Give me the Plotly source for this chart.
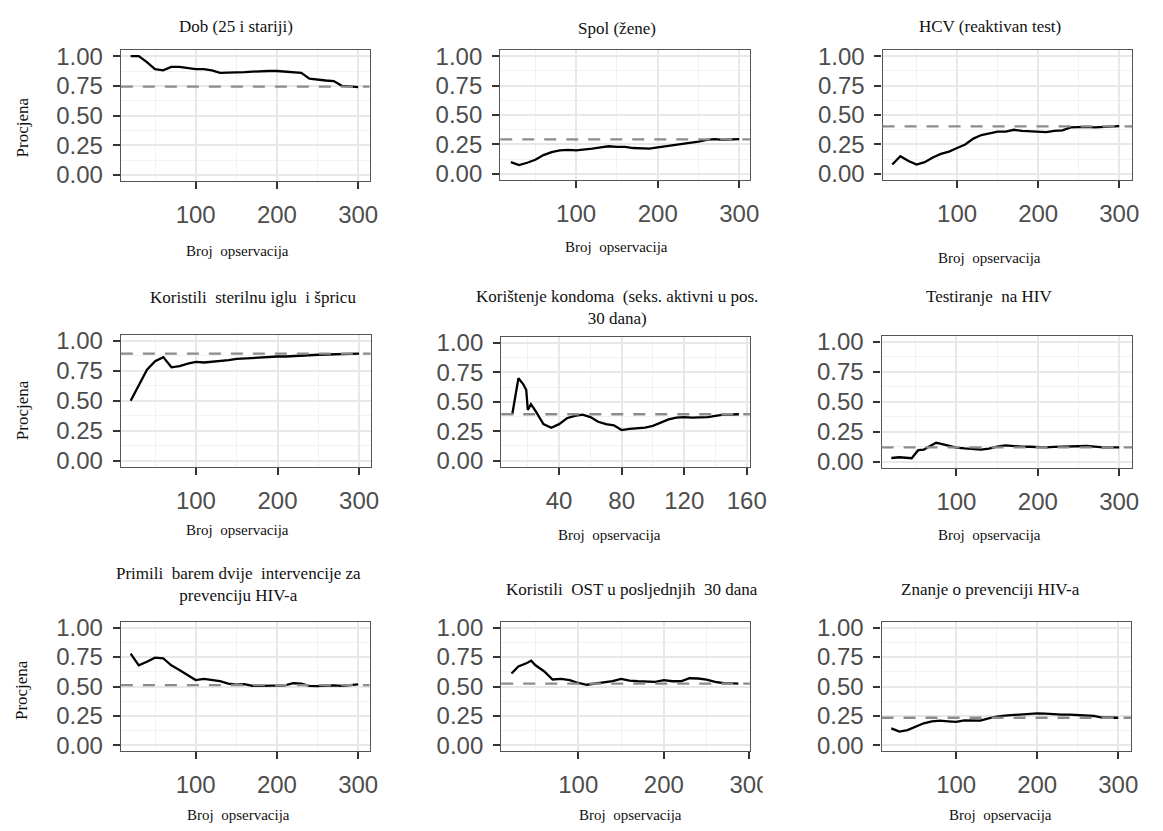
import plotly.graph_objects as go

W, H = 1163, 831

# ---------------- data ----------------
x_300 = [20, 30, 40, 50, 60, 70, 80, 90, 100, 110, 120, 130, 140, 150, 160, 170,
         180, 190, 200, 210, 220, 230, 240, 250, 260, 270, 280, 290, 300]

dob = [1.00, 1.00, 0.95, 0.89, 0.88, 0.91, 0.91, 0.90, 0.89, 0.89, 0.88, 0.86, 0.86,
       0.865, 0.865, 0.87, 0.875, 0.875, 0.875, 0.87, 0.865, 0.86, 0.81, 0.80, 0.795,
       0.79, 0.75, 0.745, 0.74]
dob_ref = 0.743

spol = [0.10, 0.075, 0.095, 0.12, 0.16, 0.185, 0.20, 0.205, 0.20, 0.205, 0.215, 0.225,
        0.235, 0.23, 0.23, 0.22, 0.215, 0.215, 0.225, 0.235, 0.245, 0.25, 0.26, 0.275,
        0.29, 0.295, 0.29, 0.292, 0.295]
spol_ref = 0.294

hcv = [0.08, 0.15, 0.11, 0.08, 0.10, 0.14, 0.17, 0.19, 0.22, 0.25, 0.30, 0.33, 0.345,
       0.36, 0.36, 0.375, 0.365, 0.36, 0.36, 0.355, 0.365, 0.37, 0.395, 0.40, 0.40,
       0.395, 0.40, 0.405, 0.405]
hcv_ref = 0.404

igla = [0.50, 0.63, 0.76, 0.83, 0.865, 0.78, 0.79, 0.81, 0.825, 0.82, 0.825, 0.83,
        0.84, 0.85, 0.855, 0.855, 0.86, 0.865, 0.87, 0.87, 0.875, 0.877, 0.88, 0.885,
        0.887, 0.888, 0.89, 0.893, 0.895]
igla_ref = 0.895

x_kondom = [10, 14, 17, 19, 20, 21, 22, 25, 30, 35, 40, 45, 50, 55, 60, 65, 70, 75,
            80, 85, 90, 95, 100, 105, 110, 115, 120, 125, 130, 135, 140, 145, 150, 155]
kondom = [0.39, 0.70, 0.65, 0.60, 0.43, 0.45, 0.48, 0.42, 0.31, 0.28, 0.31, 0.36,
          0.38, 0.39, 0.37, 0.33, 0.31, 0.30, 0.26, 0.27, 0.275, 0.28, 0.295, 0.325,
          0.35, 0.365, 0.37, 0.365, 0.365, 0.37, 0.38, 0.39, 0.392, 0.394]
kondom_ref = 0.394

x_test = [20, 30, 45, 53, 60, 70, 75, 80, 90, 100, 110, 120, 130, 140, 150, 160, 170,
          180, 190, 200, 210, 220, 230, 240, 250, 260, 270, 280, 290, 300]
test_hiv = [0.03, 0.036, 0.028, 0.095, 0.10, 0.14, 0.157, 0.15, 0.135, 0.117, 0.11,
            0.105, 0.10, 0.108, 0.125, 0.135, 0.128, 0.125, 0.124, 0.12, 0.118, 0.123,
            0.125, 0.128, 0.132, 0.13, 0.125, 0.118, 0.118, 0.118]
test_ref = 0.118

interv = [0.78, 0.68, 0.71, 0.745, 0.74, 0.68, 0.64, 0.60, 0.555, 0.565, 0.555, 0.545,
          0.525, 0.515, 0.52, 0.505, 0.505, 0.508, 0.505, 0.51, 0.528, 0.525, 0.505,
          0.503, 0.508, 0.51, 0.505, 0.51, 0.518]
interv_ref = 0.512

x_ost = [22, 30, 40, 45, 50, 60, 70, 80, 90, 100, 110, 120, 130, 140, 150, 160, 170,
         180, 190, 200, 210, 220, 230, 240, 250, 260, 270, 280, 287]
ost = [0.61, 0.67, 0.70, 0.72, 0.68, 0.63, 0.56, 0.565, 0.555, 0.53, 0.515, 0.525,
       0.53, 0.545, 0.565, 0.55, 0.545, 0.543, 0.54, 0.555, 0.545, 0.545, 0.57, 0.568,
       0.558, 0.54, 0.528, 0.527, 0.525]
ost_ref = 0.525

znanje = [0.145, 0.117, 0.13, 0.16, 0.188, 0.205, 0.21, 0.205, 0.20, 0.213, 0.21, 0.21,
          0.23, 0.245, 0.253, 0.258, 0.262, 0.262, 0.272, 0.27, 0.263, 0.262, 0.262,
          0.26, 0.258, 0.25, 0.237, 0.236, 0.235]
znanje_ref = 0.235

titles = ["Dob (25 i stariji)", "Spol (žene)", "HCV (reaktivan test)",
          "Koristili  sterilnu iglu  i špricu",
          "Korištenje kondoma  (seks. aktivni u pos.<br>30 dana)",
          "Testiranje  na HIV",
          "Primili  barem dvije  intervencije za<br>prevenciju HIV-a",
          "Koristili  OST u posljednjih  30 dana",
          "Znanje o prevenciji HIV-a"]
x_title = "Broj  opservacija"
y_title = "Procjena"
y_ticks = [0, 0.25, 0.5, 0.75, 1.0]

series = [(x_300, dob, dob_ref), (x_300, spol, spol_ref), (x_300, hcv, hcv_ref),
          (x_300, igla, igla_ref), (x_kondom, kondom, kondom_ref),
          (x_test, test_hiv, test_ref), (x_300, interv, interv_ref),
          (x_ost, ost, ost_ref), (x_300, znanje, znanje_ref)]

# ---------------- layout (pixel geometry) ----------------
# plot box: x0, x1, ytop, ybot
boxes = [(123, 376, 43, 176), (509, 763, 43, 175), (898, 1152, 43, 175),
         (123, 377, 333, 467), (510, 763, 335, 467), (897, 1152, 334, 468),
         (123, 376, 625, 757), (510, 763, 625, 757), (897, 1151, 625, 757)]
xranges = [[8, 314], [7, 313], [8, 316], [8, 314], [3, 162], [8, 316],
           [8, 314], [10, 300.5], [8, 316]]
xdticks = [100, 100, 100, 100, 40, 100, 100, 100, 100]
title_pos = [(240, 19), (628, 21), (1007, 19), (257, 295), (628, 305), (1007, 294),
             (243, 587), (643, 592), (1008, 592)]
xlab_pos = [(242, 247), (627, 243), (1007, 255), (242, 532), (620, 537), (1007, 537),
            (243, 822), (642, 822), (1018, 822)]
ylab_pos = [(23, 122), (23, 410), (22, 695)]

TICK_FONT = dict(family="Liberation Sans, Arial, sans-serif", size=24, color="#4D4D4D")
SERIF = "Liberation Serif, Times New Roman, serif"

fig = go.Figure()
layout = dict(width=W, height=H, margin=dict(l=0, r=0, t=0, b=0),
              paper_bgcolor="white", plot_bgcolor="white", showlegend=False)
annotations = []
shapes = []

for i, ((xs, ys, ref), box, xr, dt) in enumerate(zip(series, boxes, xranges, xdticks)):
    n = i + 1
    sfx = "" if n == 1 else str(n)
    x0, x1, yt, yb = box
    fig.add_trace(go.Scatter(x=xs, y=ys, mode="lines",
                             line=dict(color="black", width=2.3),
                             xaxis="x" + sfx, yaxis="y" + sfx, hoverinfo="skip"))
    common = dict(showline=True, linecolor="#555555", linewidth=1.3, mirror=True,
                  ticks="outside", ticklen=7, tickwidth=2, tickcolor="#333333",
                  showgrid=True, gridcolor="#E8E8E8", gridwidth=1.5,
                  zeroline=False, tickfont=TICK_FONT, ticklabelstandoff=5,
                  fixedrange=True)
    layout["xaxis" + sfx] = dict(domain=[x0 / W, x1 / W], anchor="y" + sfx,
                                 range=xr, tick0=0, dtick=dt,
                                 minor=dict(tick0=dt / 2, dtick=dt, showgrid=True,
                                            gridcolor="#F2F2F2", gridwidth=1),
                                 **common)
    layout["yaxis" + sfx] = dict(domain=[1 - yb / H, 1 - yt / H], anchor="x" + sfx,
                                 range=[-0.05, 1.05], tickvals=y_ticks,
                                 tickformat=".2f",
                                 minor=dict(tick0=0.125, dtick=0.25, showgrid=True,
                                            gridcolor="#F2F2F2", gridwidth=1),
                                 **common)
    shapes.append(dict(type="line", xref=f"x{sfx} domain", x0=0, x1=1,
                       yref="y" + sfx, y0=ref, y1=ref,
                       line=dict(color="#8C8C8C", width=2.3, dash="12px,10px")))
    tx, ty = title_pos[i]
    annotations.append(dict(text=titles[i], x=tx / W, y=1 - ty / H, xref="paper",
                            yref="paper", showarrow=False, xanchor="center",
                            yanchor="middle",
                            font=dict(family=SERIF, size=17, color="#111111")))
    lx, ly = xlab_pos[i]
    annotations.append(dict(text=x_title, x=lx / W, y=1 - ly / H, xref="paper",
                            yref="paper", showarrow=False, xanchor="center",
                            yanchor="middle",
                            font=dict(family=SERIF, size=15, color="#111111")))

for (lx, ly) in ylab_pos:
    annotations.append(dict(text=y_title, x=lx / W, y=1 - ly / H, xref="paper",
                            yref="paper", showarrow=False, xanchor="center",
                            yanchor="middle", textangle=-90,
                            font=dict(family=SERIF, size=17, color="#111111")))

# cropped edge of the composite image (cuts the last tick label of panel 8)
shapes.append(dict(type="rect", xref="paper", yref="paper", layer="above",
                   x0=776 / W, x1=790 / W, y0=1 - 800 / H, y1=1 - 770 / H,
                   fillcolor="white", line=dict(width=0)))

layout["annotations"] = annotations
layout["shapes"] = shapes
fig.update_layout(**layout)
fig.write_html("out.html")
